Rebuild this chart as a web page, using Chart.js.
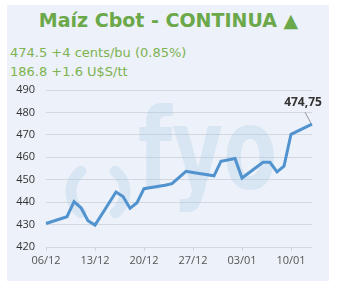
<!DOCTYPE html>
<html>
<head>
<meta charset="utf-8">
<script src="https://cdn.jsdelivr.net/npm/chart.js@4.4.0/dist/chart.umd.min.js"></script>
<style>
  html, body { margin: 0; padding: 0; background: #fff; }
  #wrap { position: relative; width: 337px; height: 288px; overflow: hidden; }
  #panel { position: absolute; left: 7px; top: 5px; width: 322px; height: 276px; background: #edf1f9; }
  .hdr { position: absolute; font-family: "DejaVu Sans", Verdana, sans-serif; white-space: nowrap; }
  #title { left: 0; width: 337px; top: 9px; text-align: center; font-size: 19px; font-weight: bold; color: #6aa84a; }
  #l1 { left: 10px; top: 45px; font-size: 13px; color: #7db351; }
  #l2 { left: 10px; top: 64px; font-size: 13px; color: #7db351; }
  canvas { position: absolute; left: 0; top: 0; }
</style>
</head>
<body>
<div id="wrap">
  <div id="panel"></div>
  <div class="hdr" id="title">Maíz Cbot - CONTINUA ▲</div>
  <div class="hdr" id="l1">474.5 +4 cents/bu (0.85%)</div>
  <div class="hdr" id="l2">186.8 +1.6 U$S/tt</div>
  <canvas id="chart" width="337" height="288"></canvas>
</div>
<script>
// Data (trading days)
const dates = ['2019-12-06', '2019-12-09', '2019-12-10', '2019-12-11', '2019-12-12', '2019-12-13',
  '2019-12-16', '2019-12-17', '2019-12-18', '2019-12-19', '2019-12-20', '2019-12-23', '2019-12-24',
  '2019-12-26', '2019-12-27', '2019-12-30', '2019-12-31', '2020-01-02', '2020-01-03', '2020-01-06',
  '2020-01-07', '2020-01-08', '2020-01-09', '2020-01-10', '2020-01-13'];
const prices = [430.5, 433.5, 440.25, 437.5, 431.75, 429.75,
  444.5, 442.5, 437.25, 439.75, 446, 447.5, 448.25,
  453.75, 453.25, 451.75, 458.25, 459.5, 450.75, 457.75,
  457.75, 453.5, 456, 470.25, 474.75];
const tickDates = ['2019-12-06', '2019-12-13', '2019-12-20', '2019-12-27', '2020-01-03', '2020-01-10'];
const tickLabels = ['06/12', '13/12', '20/12', '27/12', '03/01', '10/01'];
const yTicks = [420, 430, 440, 450, 460, 470, 480, 490];
const lastLabel = '474,75';

const DAY = 86400000;
const dayOf = d => Math.round((Date.parse(d) - Date.parse(dates[0])) / DAY);
const points = dates.map((d, i) => ({ x: dayOf(d), y: prices[i] }));
const tickDays = tickDates.map(dayOf);

// background watermark logo
const watermark = {
  id: 'watermark',
  beforeDatasetsDraw(chart) {
    const c = chart.ctx;
    c.save();
    c.strokeStyle = 'rgba(160,200,228,0.27)';
    c.fillStyle = 'rgba(160,200,228,0.27)';
    c.lineWidth = 11;
    c.lineCap = 'round';
    c.beginPath();
    c.arc(98, 192, 27, Math.PI * 0.72, Math.PI * 1.28);
    c.stroke();
    c.beginPath();
    c.arc(98, 192, 27, -Math.PI * 0.28, Math.PI * 0.28);
    c.stroke();
    c.translate(138, 188);
    c.scale(0.7, 1);
    c.font = 'bold 112px "DejaVu Sans"';
    c.textBaseline = 'alphabetic';
    c.fillText('fyo', 0, 0);
    c.restore();
  }
};

// last value callout
const callout = {
  id: 'callout',
  afterDatasetsDraw(chart) {
    const pts = chart.getDatasetMeta(0).data;
    const p = pts[pts.length - 1];
    const c = chart.ctx;
    c.save();
    c.strokeStyle = '#999';
    c.lineWidth = 1;
    c.beginPath();
    c.moveTo(p.x - 1, p.y - 1);
    c.lineTo(p.x - 7, p.y - 12);
    c.stroke();
    c.font = 'bold 12px "Open Sans"';
    c.fillStyle = '#333';
    c.textAlign = 'center';
    c.textBaseline = 'middle';
    c.fillText(lastLabel, p.x - 9, p.y - 22);
    c.restore();
  }
};

const ctx = document.getElementById('chart').getContext('2d');
new Chart(ctx, {
  type: 'line',
  data: {
    datasets: [{
      data: points,
      borderColor: '#5193cf',
      borderWidth: 3,
      pointRadius: 0,
      tension: 0,
      clip: false
    }]
  },
  options: {
    responsive: false,
    animation: false,
    layout: { padding: { top: 90, left: 0, right: 25, bottom: 11 } },
    plugins: { legend: { display: false }, tooltip: { enabled: false } },
    scales: {
      x: {
        type: 'linear',
        min: 0,
        max: dayOf(dates[dates.length - 1]),
        afterBuildTicks: s => { s.ticks = tickDays.map(v => ({ value: v })); },
        afterFit: s => { s.height = 30; },
        grid: { drawOnChartArea: false, color: '#cfd3da', tickLength: 4 },
        border: { display: false },
        ticks: {
          autoSkip: false,
          maxRotation: 0,
          padding: 3,
          color: '#555',
          font: { family: '"Open Sans"', size: 11 },
          callback: v => tickLabels[tickDays.indexOf(v)]
        }
      },
      y: {
        min: 420,
        max: 490,
        afterBuildTicks: s => { s.ticks = yTicks.map(v => ({ value: v })); },
        afterFit: s => { s.width = 46; },
        grid: { color: '#d3d7de', drawTicks: false },
        border: { display: false },
        ticks: {
          padding: 11,
          color: '#333',
          font: { family: '"Open Sans"', size: 11 }
        }
      }
    }
  },
  plugins: [watermark, callout]
});
</script>
</body>
</html>
